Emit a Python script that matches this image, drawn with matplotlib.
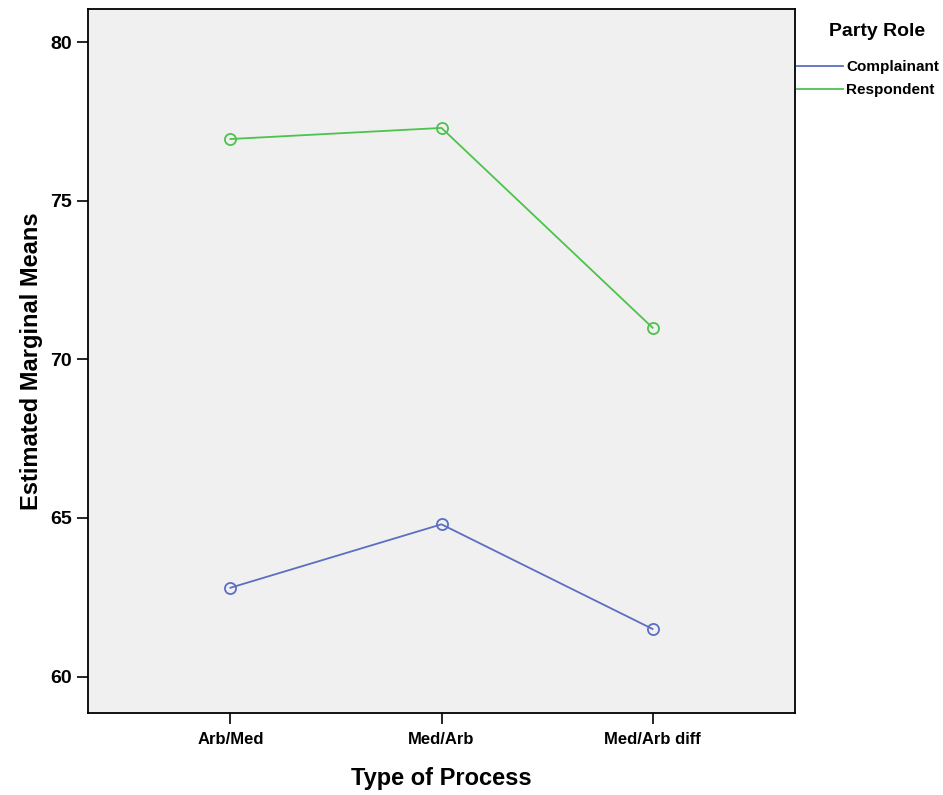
import numpy as np
import matplotlib.pyplot as plt
from matplotlib.lines import Line2D

plt.rcParams['font.family'] = ['Liberation Sans', 'DejaVu Sans']

processes = ['Arb/Med', 'Med/Arb', 'Med/Arb diff']
complainant = [62.8, 64.8, 61.5]
respondent = [76.95, 77.3, 71.0]

blue = '#5b6fc2'
green = '#4cc34c'

fig = plt.figure(figsize=(9.43, 7.95), dpi=100)
ax = fig.add_axes([88 / 943, 1 - 713 / 795, (795 - 88) / 943, (713 - 9) / 795])
ax.set_facecolor('#f0f0f0')

x = np.arange(len(processes))
ax.plot(x, complainant, color=blue, lw=1.3, marker='o', ms=8,
        mfc='none', mew=1.3)
ax.plot(x, respondent, color=green, lw=1.3, marker='o', ms=8,
        mfc='none', mew=1.3)

ax.set_xlim(-0.675, 2.675)
ax.set_ylim(58.85, 81.05)
ax.set_xticks(x)
ax.set_xticklabels(processes, fontsize=12, fontweight='bold')
ax.set_yticks([60, 65, 70, 75, 80])
ax.tick_params(axis='y', labelsize=14, length=8, width=1.2)
for lab in ax.get_yticklabels():
    lab.set_fontweight('bold')
ax.tick_params(axis='x', length=8, width=1.2, pad=6)
for s in ax.spines.values():
    s.set_linewidth(1.3)

ax.set_xlabel('Type of Process', fontsize=17, fontweight='bold', labelpad=14)
ax.set_ylabel('Estimated Marginal Means', fontsize=17, fontweight='bold', labelpad=5)

handles = [Line2D([], [], color=blue, lw=1.3), Line2D([], [], color=green, lw=1.3)]
leg = fig.legend(handles, ['Complainant', 'Respondent'], loc='upper left',
                 bbox_to_anchor=(797 / 943, 1 - 60 / 795), frameon=False,
                 fontsize=11, handlelength=3.0, handletextpad=0.2,
                 labelspacing=0.6, borderaxespad=0, borderpad=0)
for t in leg.get_texts():
    t.set_fontweight('bold')
fig.text(877 / 943, 1 - 32 / 795, 'Party Role', fontsize=14, fontweight='bold',
         ha='center', va='center')

fig.savefig('out.png', dpi=100)
